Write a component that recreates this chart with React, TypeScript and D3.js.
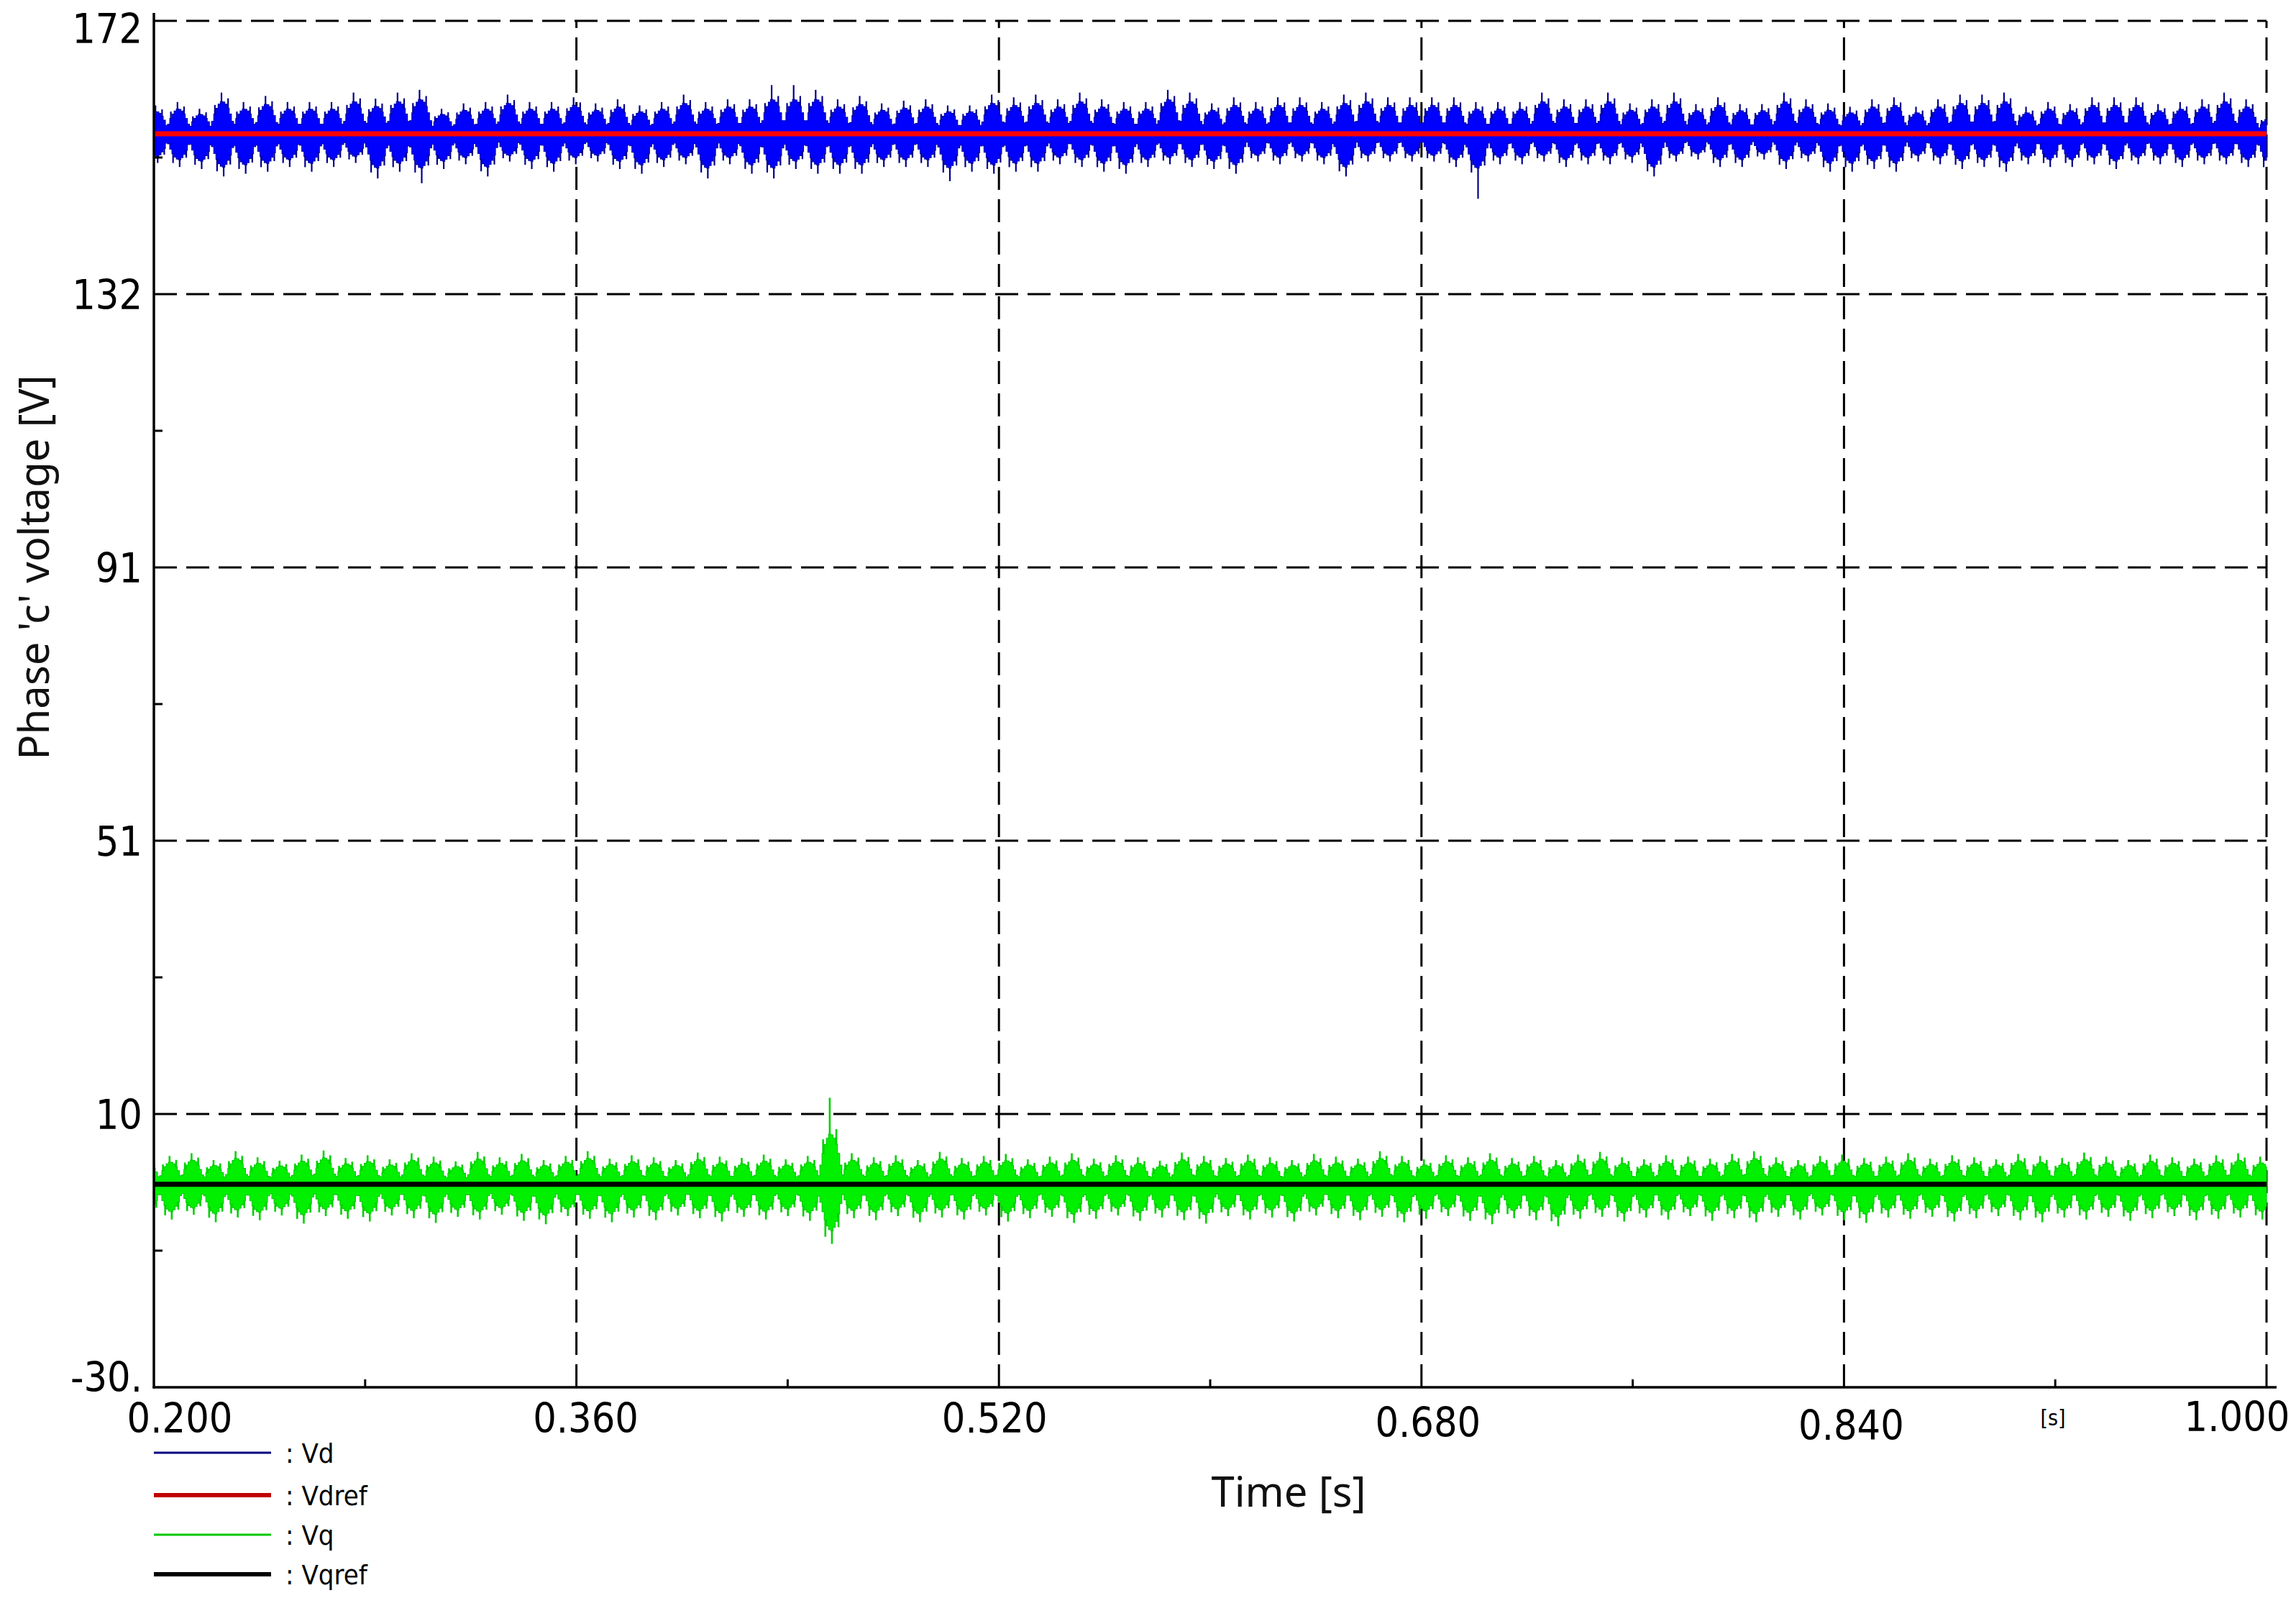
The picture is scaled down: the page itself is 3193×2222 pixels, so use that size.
import React from 'react';
import * as d3 from 'd3';

// ---------------- data ----------------
const xDomain = [0.2, 1.0];
const yDomain = [-30, 172];
const xTickValues = [0.2, 0.36, 0.52, 0.68, 0.84, 1.0];
const xTickLabels = ['0.200', '0.360', '0.520', '0.680', '0.840', '1.000'];
const xMinorTicks = [0.28, 0.44, 0.6, 0.76, 0.92];
const yTickValues = [-30, 10.4, 50.8, 91.2, 131.6, 172];
const yTickLabels = ['-30.', '10', '51', '91', '132', '172'];
const yMinorTicks = [-9.8, 30.6, 71, 111.4, 151.8];
const seriesNames = [': Vd', ': Vdref', ': Vq', ': Vqref'];
const xTitle = 'Time [s]';
const yTitle = "Phase 'c' voltage [V]";
const xUnit = '[s]';

const vdrefLevel = 155.3;
const vqrefLevel = 0;
const lobePeriod = 1 / 120; // ripple envelope period [s]
const vdLobeStart = 0.20518; // first envelope node of Vd
const vqLobeStart = 0.20218; // first envelope node of Vq

// per-ripple-lobe extremes (Vd)
const vdMax = [
  159.5, 160.0, 159.0, 161.4, 160.0, 160.9, 160.0, 160.0, 160.0, 161.4,
  160.5, 161.4, 161.8, 159.0, 159.8, 160.0, 161.1, 160.0, 160.0, 160.7,
  159.8, 160.4, 159.5, 160.0, 161.1, 160.0, 160.4, 160.4, 162.5, 162.5,
  161.8, 160.4, 160.9, 159.8, 160.2, 160.4, 159.5, 159.5, 161.1, 160.7,
  161.1, 160.4, 161.4, 160.4, 160.0, 160.0, 161.8, 161.4, 159.8, 160.7,
  160.0, 160.7, 160.7, 160.0, 161.1, 161.4, 160.7, 160.7, 160.7, 160.7,
  160.0, 160.0, 160.0, 161.4, 160.4, 160.4, 161.4, 159.8, 160.4, 161.4,
  159.7, 160.7, 159.7, 159.7, 161.4, 160.4, 159.8, 159.3, 160.4, 160.7,
  159.3, 160.4, 161.1, 161.1, 161.4, 159.3, 160.0, 159.7, 160.7, 160.7,
  160.7, 159.7, 160.0, 160.4, 161.4, 160.4, 158.2,
];
const vdMin = [
  151.0, 150.4, 150.1, 149.0, 149.4, 149.7, 150.4, 149.7, 150.4, 151.0,
  148.7, 149.7, 148.0, 150.1, 150.8, 149.0, 151.2, 150.1, 149.7, 150.8,
  151.2, 150.1, 149.4, 150.4, 150.8, 148.7, 150.8, 149.4, 148.7, 150.1,
  149.4, 149.4, 149.4, 150.4, 150.4, 150.4, 148.3, 149.7, 149.4, 149.7,
  149.7, 150.8, 150.4, 149.7, 149.4, 150.4, 150.8, 150.4, 150.1, 149.4,
  151.2, 150.8, 151.2, 150.8, 149.0, 151.2, 151.2, 151.2, 151.2, 150.4,
  145.7, 150.8, 150.8, 151.2, 150.4, 150.8, 150.8, 151.0, 149.0, 151.2,
  151.5, 150.4, 150.4, 151.5, 150.1, 151.2, 149.7, 149.7, 150.1, 149.7,
  151.2, 150.8, 150.1, 150.4, 149.7, 150.8, 150.4, 150.4, 150.8, 150.1,
  150.8, 150.8, 150.4, 150.8, 150.8, 150.4, 149.7,
];
// per-ripple-lobe extremes (Vq)
const vqMax = [
  3.8, 4.2, 4.6, 3.6, 4.9, 4.0, 3.5, 4.4, 5.0, 3.9,
  4.3, 3.7, 4.6, 4.1, 3.4, 4.8, 4.0, 4.5, 3.6, 4.2,
  4.9, 3.8, 4.3, 4.0, 3.6, 4.7, 4.1, 3.9, 4.4, 3.7,
  4.2, 12.8, 4.6, 4.0, 4.3, 3.6, 4.8, 3.9, 4.2, 4.5,
  3.7, 4.1, 4.6, 3.8, 4.3, 4.0, 3.5, 4.7, 4.2, 3.9,
  4.4, 4.0, 3.6, 4.5, 4.1, 3.8, 4.9, 4.2, 3.7, 4.3,
  4.0, 4.6, 3.9, 4.2, 3.6, 4.4, 4.8, 4.0, 3.7, 4.3,
  4.1, 3.8, 4.5, 4.9, 4.0, 3.6, 4.2, 4.4, 3.9, 4.1,
  4.6, 3.8, 4.3, 4.0, 3.7, 4.5, 4.2, 3.9, 4.7, 4.1,
  3.6, 4.4, 4.0, 3.8, 4.3, 4.6, 4.1,
];
const vqMin = [
  -4.8, -5.2, -4.5, -5.6, -4.9, -5.3, -4.6, -5.8, -4.7, -5.1,
  -5.5, -4.6, -5.0, -5.7, -4.8, -5.2, -4.5, -5.4, -5.9, -4.7,
  -5.1, -5.6, -4.9, -5.3, -4.6, -5.0, -5.5, -4.8, -5.2, -4.7,
  -5.4, -8.8, -5.0, -5.3, -4.7, -5.6, -4.9, -5.2, -4.6, -5.5,
  -5.0, -4.8, -5.7, -5.1, -4.6, -5.4, -4.9, -5.3, -5.8, -4.7,
  -5.2, -4.9, -5.5, -4.6, -5.0, -5.3, -4.8, -5.6, -5.1, -4.7,
  -5.4, -5.9, -5.0, -5.3, -6.2, -5.1, -4.8, -5.5, -4.9, -5.2,
  -4.7, -5.4, -5.0, -5.6, -4.8, -5.2, -4.6, -5.3, -5.7, -4.9,
  -5.1, -4.8, -5.5, -5.0, -4.7, -5.3, -5.6, -4.9, -5.2, -4.8,
  -5.4, -5.0, -4.7, -5.3, -5.1, -4.9, -5.2,
];

// ---------------- layout / style ----------------
const W = 3193;
const H = 2222;
const M = { left: 214, right: 3152, top: 29, bottom: 1929 };
const TICK_FONT = '"DejaVu Sans Condensed", "DejaVu Sans", sans-serif';
const TITLE_FONT = '"Noto Sans", "Open Sans", sans-serif';
const xLabelDx = [36, 13, -6, 9, 10, -41];
const xLabelCy = [1971, 1971, 1971, 1977, 1981, 1969];
const yLabelDy = [-15, 0, 0, 0, 0, 10];
const legendY = [2020, 2079, 2134, 2189];
const legendColors = ['#000080', '#c00000', '#00c800', '#000000'];
const legendWidths = [3, 6, 3, 6];

// drawing profile of one ripple lobe (fraction of the lobe extreme)
const HI_PROF = [0.3, 0.48, 0.62, 0.72, 0.78, 0.77, 0.72, 0.62, 0.48, 0.3];
const LO_PROF = [0.3, 0.46, 0.6, 0.7, 0.76, 0.78, 0.72, 0.62, 0.5, 0.32];
const NCOL = HI_PROF.length;
const VD_BODY_CAP = 6.5; // Vd body never exceeds this; larger extremes are thin spikes
const VQ_BODY_CAP = 9.5;

type Col = { a: number; b: number; hi: number; lo: number };

function buildColumns(start: number, maxArr: number[], minArr: number[], ref: number, cap: number) {
  const cols: Col[] = [];
  const spikes: { t: number; from: number; to: number }[] = [];
  maxArr.forEach((mx, i) => {
    const mn = minArr[i];
    const up = Math.min(mx - ref, cap);
    const dn = Math.min(ref - mn, cap);
    const t0 = start + (i - 1) * lobePeriod;
    for (let j = 0; j < NCOL; j++) {
      const a = t0 + (j / NCOL) * lobePeriod;
      const b = t0 + ((j + 1) / NCOL) * lobePeriod;
      if (b <= xDomain[0] || a >= xDomain[1]) continue;
      cols.push({
        a: Math.max(a, xDomain[0]),
        b: Math.min(b, xDomain[1]),
        hi: ref + HI_PROF[j] * up,
        lo: ref - LO_PROF[j] * dn,
      });
    }
    const spk = [
      { j: 4, to: mx, from: ref + HI_PROF[4] * up },
      { j: 7, to: ref + 0.86 * up, from: ref + HI_PROF[7] * up },
      { j: 1, to: ref + 0.7 * up, from: ref + HI_PROF[1] * up },
      { j: 5, to: mn, from: ref - LO_PROF[5] * dn },
      { j: 2, to: ref - 0.88 * dn, from: ref - LO_PROF[2] * dn },
      { j: 8, to: ref - 0.72 * dn, from: ref - LO_PROF[8] * dn },
    ];
    spk.forEach((s) => {
      const t = t0 + ((s.j + 0.5) / NCOL) * lobePeriod;
      if (t > xDomain[0] && t < xDomain[1]) spikes.push({ t, from: s.from, to: s.to });
    });
  });
  return { cols, spikes };
}

export default function App() {
  const x = d3.scaleLinear().domain(xDomain).range([M.left, M.right]);
  const y = d3.scaleLinear().domain(yDomain).range([M.bottom, M.top]);

  const area = d3
    .area<[number, number, number]>()
    .x((d) => x(d[0]))
    .y0((d) => y(d[2]))
    .y1((d) => y(d[1]))
    .curve(d3.curveStepAfter);
  const line = d3
    .line<[number, number]>()
    .x((d) => x(d[0]))
    .y((d) => y(d[1]));

  const toPts = (cols: Col[]) => {
    const pts: [number, number, number][] = cols.map((c) => [c.a, c.hi, c.lo]);
    const last = cols[cols.length - 1];
    pts.push([last.b, last.hi, last.lo]);
    return pts;
  };

  const vd = buildColumns(vdLobeStart, vdMax, vdMin, vdrefLevel, VD_BODY_CAP);
  const vq = buildColumns(vqLobeStart, vqMax, vqMin, vqrefLevel, VQ_BODY_CAP);

  const dash = '32 13';

  return (
    <svg
      width={W}
      height={H}
      viewBox={`0 0 ${W} ${H}`}
      style={{ position: 'absolute', left: 0, top: 0, background: '#ffffff', display: 'block' }}
    >
      <rect x={0} y={0} width={W} height={H} fill="#ffffff" />

      {/* grid */}
      <g stroke="#000" strokeWidth={3} strokeDasharray={dash} fill="none">
        {yTickValues.slice(1).map((v, i) => (
          <line key={'gy' + i} x1={x(xDomain[0])} x2={x(xDomain[1])} y1={y(v)} y2={y(v)} />
        ))}
        {xTickValues.slice(1).map((v, i) => (
          <line key={'gx' + i} x1={x(v)} x2={x(v)} y1={y(yDomain[0])} y2={y(yDomain[1])} />
        ))}
      </g>

      {/* Vd */}
      <path d={area(toPts(vd.cols)) || ''} fill="#0000ff" stroke="#0000a8" strokeWidth={1.2} />
      <g stroke="#00008b" strokeWidth={2.2}>
        {vd.spikes.map((s, i) => (
          <line key={'vds' + i} x1={x(s.t)} x2={x(s.t)} y1={y(s.from)} y2={y(s.to)} />
        ))}
      </g>
      {/* Vdref */}
      <path
        d={line([[xDomain[0], vdrefLevel], [xDomain[1], vdrefLevel]]) || ''}
        stroke="#ff0000"
        strokeWidth={7}
        fill="none"
      />

      {/* Vq */}
      <path d={area(toPts(vq.cols)) || ''} fill="#00f000" stroke="#00cc00" strokeWidth={1.2} />
      <g stroke="#00d000" strokeWidth={2.6}>
        {vq.spikes.map((s, i) => (
          <line key={'vqs' + i} x1={x(s.t)} x2={x(s.t)} y1={y(s.from)} y2={y(s.to)} />
        ))}
      </g>
      {/* Vqref */}
      <path
        d={line([[xDomain[0], vqrefLevel], [xDomain[1], vqrefLevel]]) || ''}
        stroke="#000000"
        strokeWidth={7}
        fill="none"
      />

      {/* axes */}
      <line x1={x(xDomain[0])} x2={x(xDomain[0])} y1={18} y2={y(yDomain[0]) + 1.5} stroke="#000" strokeWidth={3.5} />
      <line x1={x(xDomain[0]) - 1.5} x2={x(xDomain[1]) + 14} y1={y(yDomain[0])} y2={y(yDomain[0])} stroke="#000" strokeWidth={3.5} />
      <g stroke="#000" strokeWidth={3}>
        {xMinorTicks.map((v, i) => (
          <line key={'mx' + i} x1={x(v)} x2={x(v)} y1={y(yDomain[0])} y2={y(yDomain[0]) - 11} />
        ))}
        {yMinorTicks.map((v, i) => (
          <line key={'my' + i} x1={x(xDomain[0])} x2={x(xDomain[0]) + 12} y1={y(v)} y2={y(v)} />
        ))}
      </g>

      {/* tick labels */}
      <g fontFamily={TICK_FONT} fontSize={57} fill="#000">
        {yTickValues.map((v, i) => (
          <text key={'yl' + i} x={198} y={y(v) + yLabelDy[i] + 21} textAnchor="end">
            {yTickLabels[i]}
          </text>
        ))}
        {xTickValues.map((v, i) => (
          <text key={'xl' + i} x={x(v) + xLabelDx[i]} y={xLabelCy[i] + 21} textAnchor="middle">
            {xTickLabels[i]}
          </text>
        ))}
      </g>
      <text x={2855} y={1982} fontFamily={TICK_FONT} fontSize={30} textAnchor="middle" fill="#000">
        {xUnit}
      </text>

      {/* titles */}
      <text x={1792} y={2095} fontFamily={TITLE_FONT} fontSize={58} textAnchor="middle" fill="#111">
        {xTitle}
      </text>
      <text
        transform="translate(68, 789) rotate(-90)"
        fontFamily={TITLE_FONT}
        fontSize={58}
        textAnchor="middle"
        fill="#111"
      >
        {yTitle}
      </text>

      {/* legend */}
      {seriesNames.map((name, i) => (
        <g key={'lg' + i}>
          <line x1={214} x2={377} y1={legendY[i]} y2={legendY[i]} stroke={legendColors[i]} strokeWidth={legendWidths[i]} />
          <text x={397} y={legendY[i] + 14} fontFamily={TICK_FONT} fontSize={38} fill="#000">
            {name}
          </text>
        </g>
      ))}
    </svg>
  );
}
